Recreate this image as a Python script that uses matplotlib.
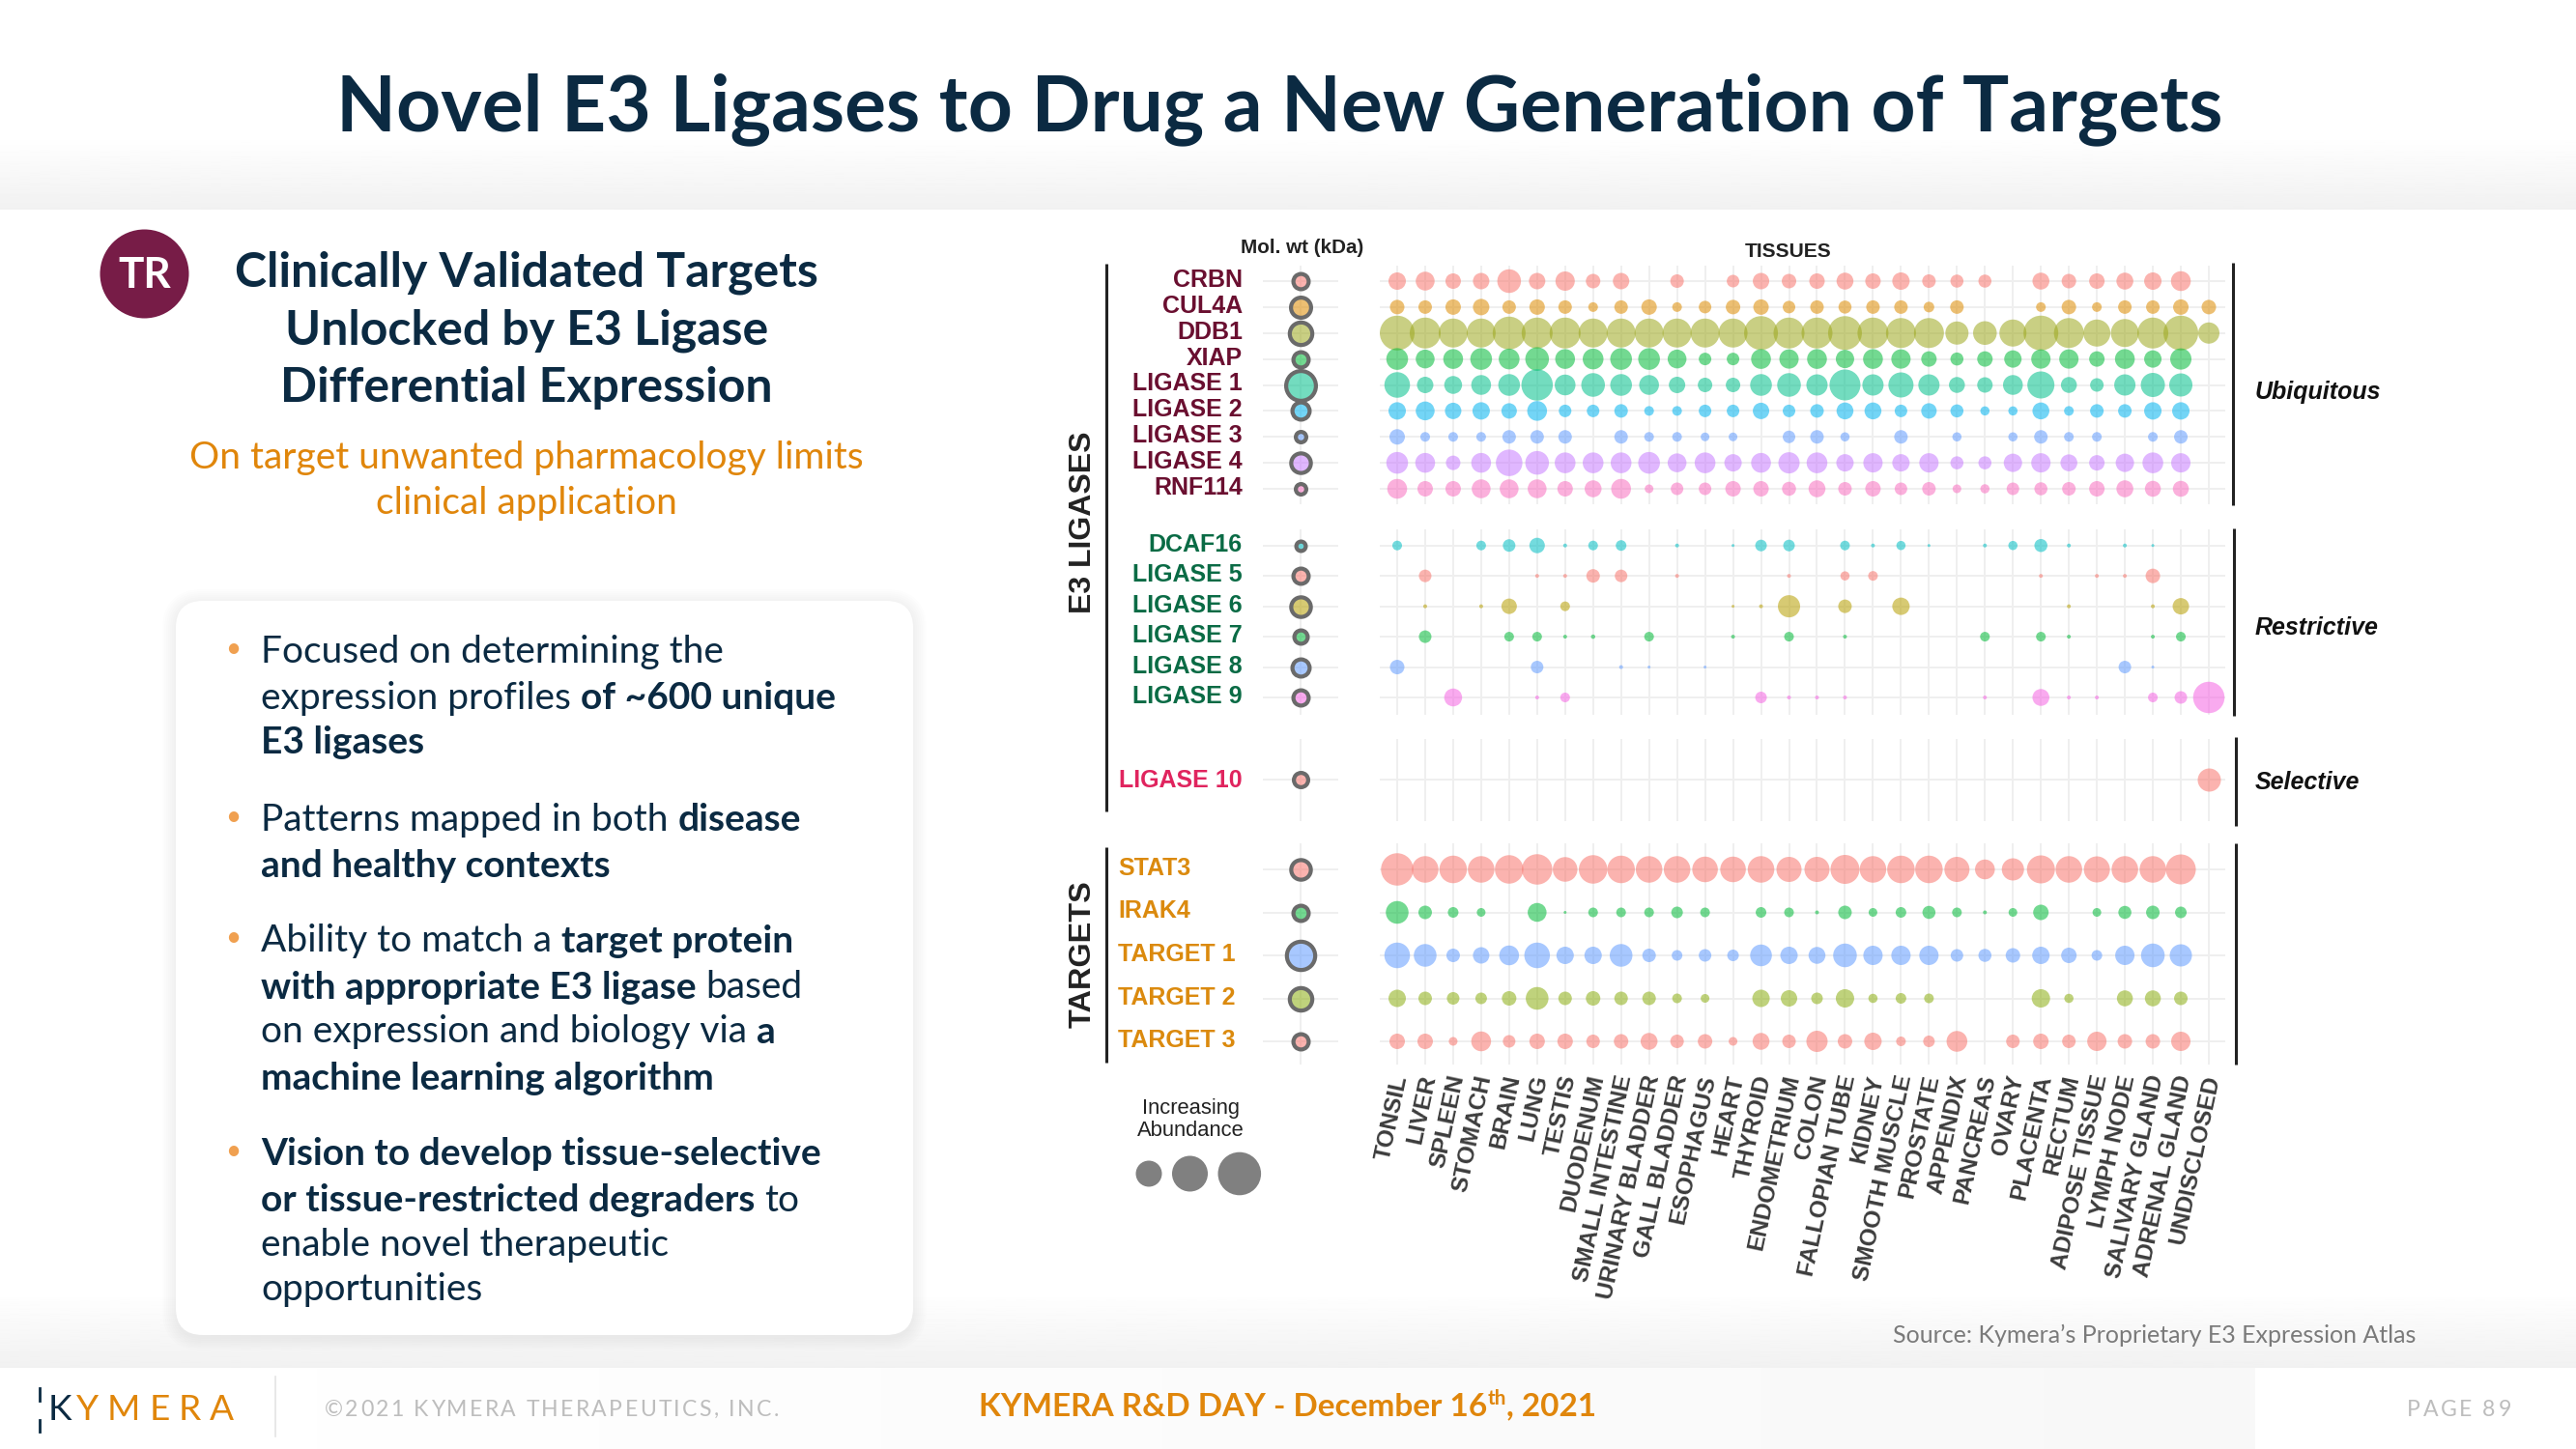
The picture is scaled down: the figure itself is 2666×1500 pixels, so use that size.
import numpy as np
import matplotlib
matplotlib.use("Agg")
import matplotlib.pyplot as plt
from matplotlib.colors import to_rgba
from matplotlib.patches import FancyBboxPatch, Circle
from matplotlib.transforms import ScaledTranslation

FIG_W, FIG_H = 2666, 1500

tissues = ["TONSIL", "LIVER", "SPLEEN", "STOMACH", "BRAIN", "LUNG", "TESTIS", "DUODENUM",
           "SMALL INTESTINE", "URINARY BLADDER", "GALL BLADDER", "ESOPHAGUS", "HEART", "THYROID",
           "ENDOMETRIUM", "COLON", "FALLOPIAN TUBE", "KIDNEY", "SMOOTH MUSCLE", "PROSTATE",
           "APPENDIX", "PANCREAS", "OVARY", "PLACENTA", "RECTUM", "ADIPOSE TISSUE", "LYMPH NODE",
           "SALIVARY GLAND", "ADRENAL GLAND", "UNDISCLOSED"]

# bubble diameters, one row per protein, one value per tissue
ubiq_names = ["CRBN", "CUL4A", "DDB1", "XIAP", "LIGASE 1", "LIGASE 2", "LIGASE 3", "LIGASE 4", "RNF114"]
ubiq_colors = ["#F8766D", "#DE8C00", "#9DA81E", "#00BA38", "#00C08B", "#00B4F0", "#619CFF", "#C77CFF", "#F96FC0"]
ubiq_mol = [20, 25, 27.5, 20, 35, 22, 15, 24.5, 15]
ubiq_values = [
    [18, 19.5, 16, 17, 24.5, 17, 20, 15, 17, 0, 14, 0, 13, 17, 15, 16, 17.5, 16, 18, 14, 13.5, 13.5, 0, 17.5, 15, 16, 17.5, 18, 20.5, 0],
    [15, 14, 16, 17, 14, 16, 14, 10, 14, 16, 10, 13, 15, 16, 13, 14, 13.5, 14, 14, 11, 14, 0, 0, 10, 15, 10, 14, 14, 16, 15],
    [36, 32, 30, 30, 34, 32, 32, 30, 30, 30, 30, 30, 30, 35, 32, 32, 35, 32, 31, 31, 24, 24.5, 28, 36, 31, 28, 29, 32, 36, 22],
    [22.5, 19.5, 20.5, 22.5, 21.5, 24.5, 20.5, 21.5, 22.5, 22.5, 19.5, 13, 13, 20.5, 20, 20.5, 19, 20.5, 20, 16, 13.5, 16, 18, 20, 20, 16, 20.5, 18, 22, 0],
    [26.5, 17, 18.5, 20.5, 22.5, 32.5, 21.5, 24.5, 22.5, 20.5, 17, 15, 15, 22.5, 24.5, 22, 32, 22, 26, 22, 16.5, 16, 20.5, 28, 16.5, 14, 22, 25, 24, 0],
    [18, 19.5, 17, 18, 16, 20.5, 13, 13, 14, 10, 10, 13, 13, 17, 13, 14, 17.5, 17.5, 13, 16, 13.5, 9.5, 9.5, 17.5, 10, 14, 14, 18, 18, 0],
    [16, 10, 10, 10, 14, 14, 14, 0, 14, 10, 10, 9, 9, 0, 13, 14, 9.5, 0, 14, 0, 9.5, 0, 9.5, 14, 10, 10, 0, 10, 14, 0],
    [22.5, 20.5, 15, 20.5, 27.5, 24.5, 21.5, 21.5, 21.5, 22.5, 19.5, 21.5, 18, 20.5, 22, 21.5, 18, 20, 18, 20, 13.5, 13.5, 19, 20, 17.5, 16, 19, 21.5, 20, 0],
    [20.5, 16, 16, 19.5, 19.5, 19.5, 16, 17.5, 20.5, 9, 13, 13, 16, 16, 14.5, 17.5, 14, 16, 13, 14, 9, 9.5, 13, 13.5, 14, 16, 17.5, 16.5, 16.5, 0],
]

restr_names = ["DCAF16", "LIGASE 5", "LIGASE 6", "LIGASE 7", "LIGASE 8", "LIGASE 9"]
restr_colors = ["#00BFC4", "#F8766D", "#B79F00", "#00BA38", "#619CFF", "#F564E3"]
restr_mol = [14, 20, 24.5, 18, 22, 20]
restr_values = [
    [10, 0, 0, 10, 13, 16, 4, 10, 11, 0, 4, 0, 3, 12, 12, 0, 10, 4, 9.5, 3, 0, 4, 9.5, 13.5, 4, 0, 4, 3, 0, 0],
    [0, 13, 0, 0, 0, 4, 4, 14, 13, 0, 4, 0, 0, 0, 4, 0, 9.5, 10, 0, 0, 0, 0, 0, 4, 0, 4, 4, 15, 0, 0],
    [0, 4, 0, 4, 16, 0, 10, 0, 0, 0, 0, 0, 3, 4, 23, 0, 14, 0, 18, 0, 0, 0, 0, 0, 4, 0, 0, 4, 17, 0],
    [0, 13, 0, 0, 10, 10, 4, 4.5, 0, 10, 0, 0, 4, 0, 10, 0, 4, 0, 0, 0, 0, 10, 0, 10, 4, 0, 0, 4, 10, 0],
    [15, 0, 0, 0, 0, 13, 0, 0, 4, 3, 0, 3, 0, 0, 0, 0, 0, 0, 0, 0, 0, 0, 0, 0, 0, 0, 13, 3, 0, 0],
    [0, 0, 18.5, 0, 0, 4, 10, 0, 0, 0, 0, 0, 0, 12, 4, 4, 4, 0, 0, 0, 0, 4, 0, 17.5, 4, 4, 0, 10, 13, 32.5],
]

sel_names = ["LIGASE 10"]
sel_colors = ["#F8766D"]
sel_mol = [19]
sel_values = [[0] * 29 + [24]]

tgt_names = ["STAT3", "IRAK4", "TARGET 1", "TARGET 2", "TARGET 3"]
tgt_colors = ["#F8766D", "#00BA38", "#619CFF", "#8CAE10", "#F8766D"]
tgt_mol = [24.5, 20, 33.5, 27.5, 20]
tgt_values = [
    [33.5, 27.5, 28.5, 27.5, 29.5, 31.5, 25.5, 29.5, 28.5, 27.5, 27.5, 26.5, 26.5, 27.5, 26, 26, 30, 27.5, 28.5, 28.5, 26, 20.5, 23, 29, 27.5, 27, 27.5, 27.5, 31, 0],
    [23.5, 14, 11, 9, 0, 19.5, 3, 10, 10, 10, 12, 10, 0, 11, 10, 4, 14, 9, 11, 13.5, 10, 4, 9, 16, 0, 9, 13.5, 14, 12, 0],
    [26.5, 23.5, 14, 17, 20.5, 26.5, 18, 18, 23.5, 14, 11, 13, 12, 22.5, 18, 17.5, 24.5, 20, 20, 20, 13, 13.5, 15, 18, 16, 11, 20, 24.5, 23, 0],
    [18, 14, 13, 12, 15, 23.5, 14, 15, 14, 14, 10, 9, 0, 18, 17, 12, 19, 9.5, 11, 10, 0, 0, 0, 19, 9.5, 0, 16.5, 16.5, 14, 0],
    [16, 16, 9, 20.5, 13, 16, 16, 14, 15, 17.5, 14, 15, 9, 17.5, 14, 22, 15, 18, 10, 12, 21.5, 0, 14, 16, 14, 20, 15, 15, 20, 0],
]

legend_sizes = [27, 37, 44.6]

# text of the slide, each line is a list of (text, is_bold)
bullet_lines = [
    [[("Focused on determining the", False)],
     [("expression profiles ", False), ("of ~600 unique", True)],
     [("E3 ligases", True)]],
    [[("Patterns mapped in both ", False), ("disease", True)],
     [("and healthy contexts", True)]],
    [[("Ability to match a ", False), ("target protein", True)],
     [("with appropriate E3 ligase ", True), ("based", False)],
     [("on expression and biology via ", False), ("a", True)],
     [("machine learning algorithm", True)]],
    [[("Vision to develop tissue-selective", True)],
     [("or tissue-restricted degraders ", True), ("to", False)],
     [("enable novel therapeutic", False)],
     [("opportunities", False)]],
]
bullet_y = [[675, 723, 769], [849, 896], [974, 1022, 1068, 1116], [1195, 1243, 1289, 1335]]

NAVY = "#0B2A42"
ORANGE = "#E0860B"
MAROON = "#6A0F30"
GREEN = "#0A6B45"
RED = "#E0245E"
GREY_LINE = "#EFEFEF"
BUBBLE_ALPHA = 0.55

plt.rcParams["font.family"] = ["Lato", "DejaVu Sans"]


def px(size):
    # font size in pixels to points, figure is saved at dpi 100
    return size * 0.72


def make_axes(fig, left, top, right, bottom):
    return fig.add_axes([left / FIG_W, 1 - bottom / FIG_H, (right - left) / FIG_W, (bottom - top) / FIG_H])


def text_width(fig, s, **kw):
    t = fig.text(0, 0, s + "|", **kw)
    w = t.get_window_extent(fig.canvas.get_renderer()).width
    t.set_text("|")
    w -= t.get_window_extent(fig.canvas.get_renderer()).width
    t.remove()
    return w


def spaced_text(fig, ax, x, y, s, spacing, **kw):
    for ch in s:
        ax.text(x, y, ch, ha="left", va="center", **kw)
        x += text_width(fig, ch, **{k: v for k, v in kw.items() if k in ("fontsize", "family", "weight")}) + spacing


def style_axes(ax, nx, ny):
    ax.patch.set_alpha(0)
    for s in ax.spines.values():
        s.set_visible(False)
    ax.set_xticks(nx)
    ax.set_yticks(range(ny))
    ax.tick_params(length=0, labelbottom=False, labelleft=False)
    ax.grid(True, color=GREY_LINE, linewidth=1.4)
    ax.set_axisbelow(True)


def draw_group(fig, first_y, last_y, top, bottom, names, colors, mols, values):
    n = len(names)
    step = (last_y - first_y) / (n - 1) if n > 1 else 1.0
    ylim = ((bottom - first_y) / step, (top - first_y) / step)

    # bubbles
    ax = make_axes(fig, 1428, top, 2303, bottom)
    ax.set_xlim(-18 / 28.97, 29 + 17 / 28.97)
    ax.set_ylim(*ylim)
    style_axes(ax, range(len(tissues)), n)
    for i in range(n):
        vals = np.array(values[i], dtype=float)
        keep = vals > 0
        ax.scatter(np.arange(len(vals))[keep], np.full(keep.sum(), i), s=(px(vals[keep])) ** 2,
                   color=colors[i], alpha=BUBBLE_ALPHA, linewidths=0, clip_on=False, zorder=3)

    # molecular weight column
    ax_m = make_axes(fig, 1307, top, 1385, bottom)
    ax_m.set_xlim(-1, 1)
    ax_m.set_ylim(*ylim)
    style_axes(ax_m, [0], n)
    ring = 4.2
    for i in range(n):
        ax_m.scatter([0], [i], s=px(mols[i] - ring) ** 2, facecolor=to_rgba(colors[i], BUBBLE_ALPHA),
                     edgecolor="#6A6A6A", linewidths=px(ring), clip_on=False, zorder=3)
    return ax


def main():
    fig = plt.figure(figsize=(FIG_W / 100, FIG_H / 100), dpi=100, facecolor="white")

    # slide background in pixel coordinates
    bg = fig.add_axes([0, 0, 1, 1])
    bg.set_xlim(0, FIG_W)
    bg.set_ylim(FIG_H, 0)
    bg.axis("off")
    grad_v = np.linspace(1.0, 0.945, 64).reshape(-1, 1)
    bg.imshow(grad_v, extent=(0, FIG_W, 217, 140), cmap="gray", vmin=0, vmax=1, aspect="auto", zorder=0)
    bg.imshow(grad_v, extent=(0, FIG_W, 1416, 1337), cmap="gray", vmin=0, vmax=1, aspect="auto", zorder=0)
    grad_h = np.linspace(1.0, 0.97, 64).reshape(1, -1)
    bg.imshow(grad_h, extent=(0, 2334, 1500, 1416), cmap="gray", vmin=0, vmax=1, aspect="auto", zorder=0)
    bg.set_xlim(0, FIG_W)
    bg.set_ylim(FIG_H, 0)

    # title
    bg.text(1324, 113, "Novel E3 Ligases to Drug a New Generation of Targets", ha="center", va="center",
            fontsize=px(80.4), weight="bold", color=NAVY)

    # left header
    bg.add_patch(Circle((149.5, 283.5), 46, facecolor="#771C47", edgecolor="none"))
    bg.text(149.5, 285, "TR", ha="center", va="center", fontsize=px(44), weight="bold", color="white")
    for y, s in zip([282, 342, 402], ["Clinically Validated Targets", "Unlocked by E3 Ligase", "Differential Expression"]):
        bg.text(545, y, s, ha="center", va="center", fontsize=px(50), weight="bold", color=NAVY)
    for y, s in zip([474, 521], ["On target unwanted pharmacology limits", "clinical application"]):
        bg.text(545, y, s, ha="center", va="center", fontsize=px(38.9), color=ORANGE)

    # card with a soft shadow
    for grow in range(14, 0, -2):
        bg.add_patch(FancyBboxPatch((182 - grow, 622 - grow + 2), 763 + 2 * grow, 760 + 2 * grow,
                                    boxstyle="round,pad=0,rounding_size=%d" % (28 + grow),
                                    facecolor="black", edgecolor="none", alpha=0.009, zorder=1))
    bg.add_patch(FancyBboxPatch((182, 622), 763, 760, boxstyle="round,pad=0,rounding_size=28",
                                facecolor="white", edgecolor="none", zorder=2))

    body = px(38.9)
    for lines, ys in zip(bullet_lines, bullet_y):
        bg.text(241, ys[0] - 3, "\u2022", ha="center", va="center", fontsize=px(28), color="#F0A050", zorder=3)
        for parts, y in zip(lines, ys):
            x = 270
            for s, is_bold in parts:
                weight = "bold" if is_bold else "normal"
                bg.text(x, y, s, ha="left", va="center", fontsize=body, weight=weight, color=NAVY, zorder=3)
                x += text_width(fig, s, fontsize=body, weight=weight)

    # the bubble chart, one block per group of proteins
    draw_group(fig, 291, 506, 275, 522, ubiq_names, ubiq_colors, ubiq_mol, ubiq_values)
    draw_group(fig, 564.7, 722, 548, 740, restr_names, restr_colors, restr_mol, restr_values)
    draw_group(fig, 806.7, 806.7, 765, 850, sel_names, sel_colors, sel_mol, sel_values)
    ax_t = draw_group(fig, 900, 1078, 873, 1102, tgt_names, tgt_colors, tgt_mol, tgt_values)

    # tissue names under the last block
    ax_t.tick_params(labelbottom=True, pad=8)
    ax_t.set_xticklabels(tissues, rotation=78, ha="right", va="center", rotation_mode="anchor",
                         fontsize=px(24.5), family="Liberation Sans", color="#3C3C3C", weight="bold")
    shift = ScaledTranslation(4 / 100, 0, fig.dpi_scale_trans)
    for lab in ax_t.get_xticklabels():
        lab.set_transform(lab.get_transform() + shift)

    # row labels
    lib = dict(family="Liberation Sans", va="center", weight="bold")
    first_rows = [(291, 506, ubiq_names, MAROON, 1286, "right"), (564.7, 722, restr_names, GREEN, 1286, "right"),
                  (808.7, 808.7, sel_names, RED, 1286, "right"), (900, 1078, tgt_names, "#DB8A0E", 1157, "left")]
    for y0, y1, names, color, x, ha in first_rows:
        ys = np.linspace(y0, y1, len(names))
        for y, s in zip(ys, names):
            bg.text(x, y - 1, s, ha=ha, fontsize=px(25), color=color, **lib)

    # chart headers and brackets
    bg.text(1348, 257, "Mol. wt (kDa)", ha="center", fontsize=px(20.7), color="#222222", **lib)
    bg.text(1851, 260, "TISSUES", ha="center", fontsize=px(21), color="#222222", **lib)
    bg.text(1121, 541, "E3 LIGASES", rotation=90, ha="center", fontsize=px(32), color="#222222", **lib)
    bg.text(1121, 988, "TARGETS", rotation=90, ha="center", fontsize=px(32.5), color="#222222", **lib)
    for x, y0, y1 in [(1145, 273, 840), (1145, 877, 1100), (2311, 272, 523), (2312, 547, 741),
                      (2314, 763, 855), (2314, 873, 1102)]:
        bg.plot([x, x], [y0, y1], color="#222222", linewidth=2.2, solid_capstyle="butt")
    for y, s in [(406, "Ubiquitous"), (650, "Restrictive"), (810, "Selective")]:
        bg.text(2334, y, s, ha="left", va="center", family="Liberation Sans", style="italic", weight="bold",
                fontsize=px(25), color="#111111")

    # abundance legend
    bg.text(1232, 1148, "Increasing", ha="center", fontsize=px(22), color="#222222", family="Liberation Sans", va="center")
    bg.text(1232, 1170, "Abundance", ha="center", fontsize=px(22), color="#222222", family="Liberation Sans", va="center")
    sizes = np.array(legend_sizes)
    xs = 1175.5 + np.concatenate([[0], np.cumsum(sizes[:-1] + 10.5)]) + sizes / 2
    bg.scatter(xs, np.full(len(sizes), 1215), s=px(sizes) ** 2, color="#808080", linewidths=0, zorder=3)

    # footer
    bg.text(1959, 1382, "Source: Kymera\u2019s Proprietary E3 Expression Atlas", ha="left", va="center",
            fontsize=px(25), color="#7A7A7A")
    bg.plot([41, 41], [1437, 1450], color=NAVY, linewidth=2)
    bg.plot([41, 41], [1470, 1482], color=NAVY, linewidth=2)
    spaced_text(fig, bg, 50, 1460, "K", 6, fontsize=px(37), color=NAVY)
    spaced_text(fig, bg, 79, 1460, "YMERA", 9, fontsize=px(37), color=ORANGE)
    bg.plot([285, 285], [1425, 1487], color="#E4E4E4", linewidth=1.2)
    spaced_text(fig, bg, 336, 1459, "\u00a92021 KYMERA THERAPEUTICS, INC.", 2.3, fontsize=px(23), color="#BDBDBD")
    spaced_text(fig, bg, 2491, 1459, "PAGE 89", 2.6, fontsize=px(23), color="#BDBDBD")

    foot = px(33.4)
    x = 1013
    for s, dy, size in [("KYMERA R&D DAY - December 16", 0, foot), ("th", -8, foot * 0.62), (", 2021", 0, foot)]:
        bg.text(x, 1456 + dy, s, ha="left", va="center", fontsize=size, weight="bold", color=ORANGE)
        x += text_width(fig, s, fontsize=size, weight="bold")

    fig.savefig("out.png", dpi=100)
    plt.close(fig)


if __name__ == "__main__":
    main()
